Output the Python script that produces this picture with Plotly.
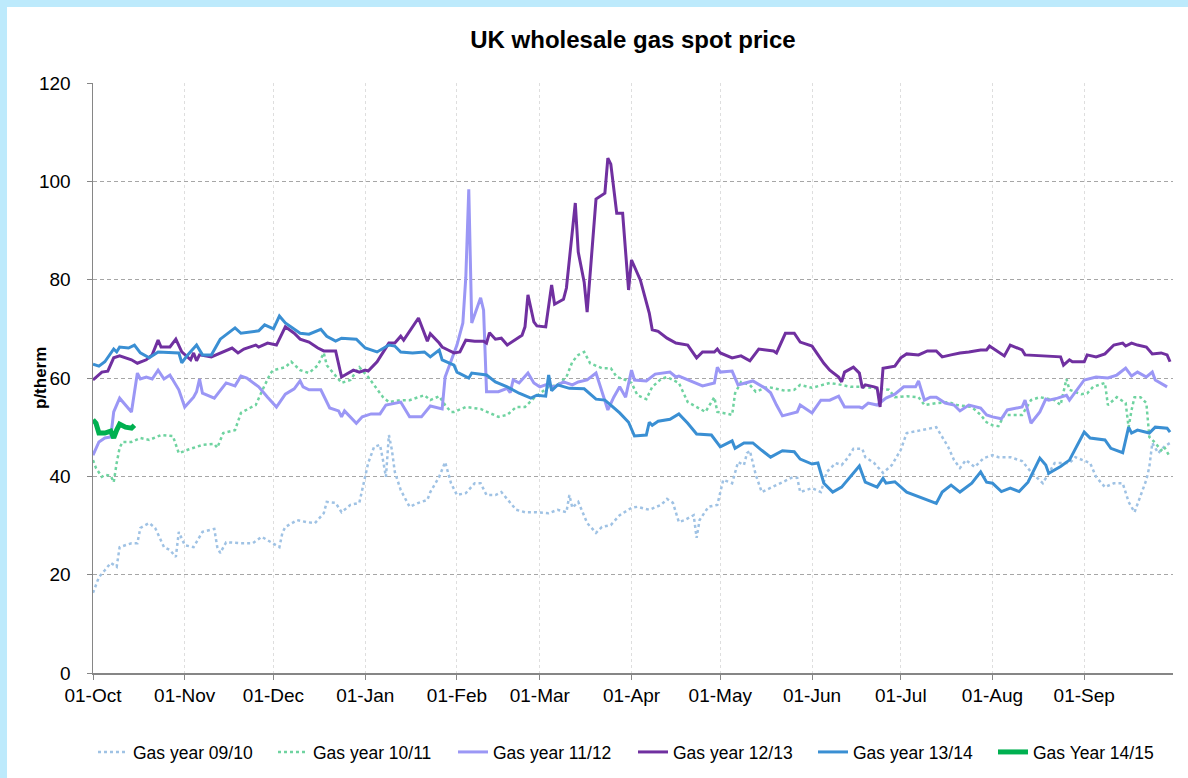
import pandas as pd
import plotly.graph_objects as go

# ---- data: day offset from 01-Oct and price in p/therm ----
base_date = "2013-10-01"
month_ticks = ["01-Oct", "01-Nov", "01-Dec", "01-Jan", "01-Feb", "01-Mar",
               "01-Apr", "01-May", "01-Jun", "01-Jul", "01-Aug", "01-Sep"]

days_0910 = [0,2,4,6,8,9,13,15,16,19,21,24,26,28,29,31,34,37,41,42,
             43,45,50,54,57,60,63,64,65,69,72,75,78,79,82,84,87,90,92,93,
             95,97,98,99,100,101,102,104,107,110,113,114,117,119,121,123,126,129,131,133,
             136,138,143,146,150,154,157,160,161,162,164,167,170,172,175,178,182,184,188,192,
             194,196,198,200,203,204,205,208,211,213,216,218,220,221,222,224,226,229,233,236,
             238,239,243,246,248,251,253,255,257,260,261,264,267,270,273,275,280,285,287,289,
             291,293,295,298,301,304,306,310,314,317,321,325,330,332,337,339,342,345,348,350,
             352,354,356,357,358,360,362,364]
vals_0910 = [16.3,19.5,20.9,22.4,21.6,25.6,26.4,26.4,29.5,30.5,29.5,25.6,25.0,23.6,28.7,26.0,25.6,28.7,29.3,25.6,
             24.4,26.6,26.4,26.4,27.7,26.6,25.6,28.5,29.7,31.1,30.7,30.5,32.5,34.8,34.6,32.7,34.2,34.6,39.7,42.7,
             46.0,46.4,43.3,39.9,48.4,45.4,40.9,37.2,33.8,34.6,35.2,36.8,39.9,42.9,38.6,36.2,36.6,38.6,38.6,36.2,
             36.2,36.8,33.2,32.7,32.7,32.5,33.2,32.7,36.2,33.6,34.8,30.5,28.5,29.7,30.1,32.1,33.6,33.8,33.2,34.2,
             35.4,34.6,30.7,31.1,32.1,27.5,31.1,33.8,34.2,39.3,38.6,42.9,42.3,44.7,45.2,40.3,36.8,37.6,38.8,39.7,
             39.7,36.8,37.6,36.8,40.9,42.7,42.3,43.7,45.6,45.6,43.9,42.7,40.7,42.3,45.4,48.8,49.4,50.0,48.0,46.0,
             43.3,41.7,43.3,41.9,43.7,44.3,43.9,43.9,43.1,40.9,38.6,42.7,42.7,43.9,42.7,39.9,37.8,38.6,38.6,34.8,
             32.7,35.8,39.3,41.9,46.8,44.7,46.0,46.8]

days_1011 = [0,1,3,4,6,7,8,9,10,13,16,19,23,27,29,32,37,41,42,44,
             48,50,53,55,57,60,61,65,67,70,73,76,78,79,84,87,90,93,98,100,
             104,107,112,114,117,119,121,122,126,131,134,137,140,143,146,149,154,157,160,162,
             164,166,168,172,175,177,180,182,184,187,189,192,194,198,201,204,207,210,211,213,
             216,217,219,222,224,228,234,237,239,243,249,253,256,260,264,269,271,275,279,281,
             285,289,292,297,300,302,304,306,308,314,317,320,325,327,329,330,334,336,338,342,
             343,346,349,350,351,352,354,356,357,359,361,362,364]
vals_1011 = [43.3,41.7,39.9,40.3,40.1,38.8,42.7,45.8,47.0,47.0,47.8,47.4,48.4,48.2,44.7,45.4,46.4,46.6,45.8,48.8,
             49.4,52.9,53.9,54.5,57.2,61.0,61.6,62.2,63.3,61.6,61.0,62.6,65.1,62.6,59.0,59.6,62.2,60.2,56.1,55.1,
             55.5,55.5,56.5,55.5,56.3,54.5,53.1,53.1,54.1,53.7,52.9,52.1,52.5,54.1,54.1,55.9,58.2,58.6,60.2,63.3,
             64.7,65.3,63.0,62.0,62.0,60.2,59.6,59.0,56.5,55.7,58.2,59.8,60.2,59.0,55.1,54.1,53.1,56.1,53.1,52.9,
             52.5,56.9,59.2,58.6,57.2,58.2,57.4,57.6,58.6,58.0,59.0,58.6,58.2,58.2,58.0,57.6,56.1,56.3,56.1,54.5,
             54.9,55.1,54.5,54.1,52.5,51.0,50.4,50.2,52.5,52.5,55.5,56.1,55.5,54.5,59.8,57.6,56.7,56.9,58.2,59.0,
             54.5,56.1,54.9,50.0,53.5,56.1,56.1,54.9,48.0,46.8,45.3,46.0,43.9]

days_1112 = [0,2,4,6,7,9,13,15,16,18,20,22,24,26,29,31,34,35,36,37,
             41,45,48,50,52,56,59,62,65,68,70,71,73,77,80,83,84,85,89,91,
             94,97,99,104,107,111,114,118,119,123,125,126,127,128,131,132,133,137,140,141,
             142,144,147,149,151,153,156,159,162,164,167,170,174,176,178,180,182,183,187,190,
             195,197,198,201,206,210,211,212,216,218,223,227,229,231,233,238,239,243,246,249,
             252,254,259,260,262,265,268,271,274,278,279,281,283,285,288,291,293,296,300,302,
             304,307,309,314,315,317,320,322,323,326,329,330,335,339,343,346,349,351,353,356,
             358,359,363]
vals_1112 = [44.3,47.0,47.8,48.0,53.1,55.9,53.1,61.0,59.8,60.2,59.8,61.6,59.8,60.6,57.6,54.1,56.1,57.2,59.8,56.9,
             55.9,59.0,58.4,60.4,60.0,58.2,56.1,54.1,56.7,57.8,59.4,58.2,57.6,57.6,53.9,53.3,52.1,53.3,50.8,52.1,
             52.7,52.7,54.5,55.1,52.1,52.1,54.3,53.7,60.2,66.7,71.2,80.5,98.4,71.2,76.3,73.8,57.2,57.2,57.9,57.0,
             59.6,59.0,61.0,59.0,58.2,58.6,58.2,59.2,58.6,59.2,59.6,61.0,53.5,56.1,58.2,56.1,61.6,59.6,59.4,60.8,
             61.2,60.2,60.4,59.6,58.4,59.0,62.2,61.2,61.4,58.6,59.4,58.0,57.0,54.5,52.3,53.1,54.5,52.9,55.5,55.5,
             56.3,54.1,54.1,53.9,54.9,54.5,55.9,56.7,58.2,58.2,59.4,55.5,56.1,56.1,54.9,54.5,53.3,54.5,53.9,52.5,
             52.1,51.7,53.5,54.1,55.5,50.8,53.1,55.7,55.5,55.9,56.5,55.5,59.6,60.2,60.0,60.6,62.0,60.4,61.2,60.2,
             61.2,59.6,58.2]

days_1213 = [0,3,5,7,9,11,13,15,18,20,22,23,26,28,30,33,34,35,36,40,
             43,47,49,51,55,56,59,62,65,68,70,73,76,78,82,84,88,90,92,93,
             96,98,100,102,104,105,107,110,113,114,117,118,120,122,124,126,129,132,133,134,
             136,138,140,145,146,147,149,150,153,155,156,159,160,163,164,166,167,170,173,174,
             175,177,179,181,182,185,188,189,191,194,197,201,204,206,210,211,212,216,219,222,
             225,230,231,234,237,239,243,247,249,252,253,254,257,259,260,261,264,265,266,267,
             269,271,273,275,279,282,285,287,290,293,296,300,302,303,305,308,310,314,315,320,
             325,327,328,330,331,335,336,339,342,345,348,349,351,353,356,358,361,363,364]
vals_1213 = [59.6,61.2,61.4,64.1,64.5,64.1,63.7,63.0,63.7,64.7,67.7,66.3,66.3,67.9,65.3,63.7,65.1,63.5,64.7,64.3,
             65.1,66.1,65.1,65.9,66.7,66.3,67.1,66.7,70.4,69.1,67.9,67.3,66.1,65.5,65.5,60.2,61.6,61.2,61.6,61.4,
             63.3,65.3,67.1,67.1,68.5,67.7,69.4,72.2,67.5,69.0,67.1,66.3,65.7,65.1,65.3,67.7,67.5,67.5,67.1,69.2,
             67.9,68.1,66.7,68.7,70.4,76.9,71.4,70.6,70.4,78.9,75.0,76.0,78.3,95.6,85.6,79.5,73.4,96.4,97.6,104.7,
             103.5,93.5,93.5,77.9,84.0,79.9,73.2,69.8,69.5,68.1,67.1,66.7,64.1,65.3,65.3,65.9,65.1,64.1,64.5,63.5,
             65.9,65.5,65.1,69.1,69.1,67.3,66.5,63.0,61.6,60.2,59.2,61.2,62.2,61.0,58.0,58.6,58.2,58.0,54.1,62.0,
             62.2,62.4,64.1,64.9,64.7,65.5,65.5,64.3,64.7,65.1,65.3,65.7,65.7,66.5,65.7,64.5,66.7,65.7,64.7,64.5,
             64.3,64.3,62.6,63.7,63.3,63.3,64.7,64.3,64.9,66.7,67.1,66.5,67.1,66.7,66.3,64.9,65.1,64.7,63.3]

days_1314 = [0,2,4,7,8,9,12,14,16,19,22,29,30,32,35,37,40,43,48,50,
             56,58,61,63,65,70,73,77,79,82,84,89,92,96,100,102,104,108,112,114,
             117,118,122,123,127,128,133,136,140,144,148,150,153,154,155,157,161,166,170,173,
             175,178,181,183,187,188,189,191,195,198,201,204,209,212,216,217,220,223,226,229,
             233,237,239,243,245,247,250,253,259,261,265,267,268,271,275,280,285,287,290,293,
             297,300,302,304,307,310,313,316,318,320,322,323,327,330,335,337,342,344,348,350,
             351,353,357,359,363,364]
vals_1314 = [62.8,62.4,63.3,65.9,65.3,66.3,66.1,66.7,65.1,64.1,65.3,65.1,63.1,64.7,66.7,64.7,64.7,67.9,70.2,69.1,
             69.6,70.8,70.0,72.6,71.2,69.1,68.9,69.9,68.5,67.5,68.1,67.9,66.1,65.3,66.7,66.5,65.3,65.1,65.3,64.3,
             65.7,63.7,62.6,61.2,60.0,61.0,60.6,59.2,58.2,56.9,55.9,56.5,56.3,60.6,57.4,58.6,57.9,57.8,55.7,55.5,
             54.5,52.9,51.0,48.2,48.4,51.0,50.4,51.2,51.6,52.7,50.8,48.6,48.4,46.0,47.2,45.7,46.8,46.8,45.3,43.9,
             45.2,45.0,43.5,42.5,42.7,38.6,36.8,37.8,42.1,38.8,37.8,39.6,38.6,38.9,36.8,35.6,34.5,36.8,38.2,36.8,
             38.6,40.9,38.8,38.6,36.9,37.6,36.9,38.8,41.3,43.7,42.3,40.6,42.0,43.3,49.0,47.8,47.4,45.7,44.8,50.0,
             48.8,49.4,48.8,50.0,49.8,49.0]

days_1415 = [0,1,2,4,6,7,8,9,11,13,14]
vals_1415 = [51.5,50.8,48.8,48.8,49.2,47.8,49.4,50.6,50.0,49.8,50.4]

series_names = ["Gas year 09/10", "Gas year 10/11", "Gas year 11/12",
                "Gas year 12/13", "Gas year 13/14", "Gas Year 14/15"]
series_days = [days_0910, days_1011, days_1112, days_1213, days_1314, days_1415]
series_vals = [vals_0910, vals_1011, vals_1112, vals_1213, vals_1314, vals_1415]

# ---- styles ----
colors = ["#9fc2e4", "#6fd3a0", "#9b97f5", "#7030a0", "#3a8fd3", "#00b050"]
widths = [2.5, 2.5, 3, 3, 3, 5]
dashes = ["dot", "dot", "solid", "solid", "solid", "solid"]
BORDER = "#bdeafc"

base = pd.Timestamp(base_date)
fig = go.Figure()
for name, d, v, c, w, ds in zip(series_names, series_days, series_vals, colors, widths, dashes):
    assert len(d) == len(v), name
    x = [base + pd.Timedelta(days=int(k)) for k in d]
    fig.add_trace(go.Scatter(x=x, y=v, mode="lines", name=name,
                             line=dict(color=c, width=w, dash=ds)))

tick_dates = pd.date_range(base, periods=12, freq="MS")
FONT = "Liberation Sans, Arial, sans-serif"

fig.update_layout(
    width=1188, height=778,
    paper_bgcolor=BORDER, plot_bgcolor="white",
    margin=dict(l=93, r=15, t=83, b=105, autoexpand=False),
    font=dict(family=FONT, color="#000000"),
    title=dict(text="<b>UK wholesale gas spot price</b>", x=0.5, xanchor="center",
               y=1 - 40 / 778, yanchor="middle", xref="paper",
               font=dict(size=24, family=FONT, color="#000000")),
    showlegend=True,
    legend=dict(orientation="h", x=0.5, xanchor="center", y=-0.134, yanchor="middle",
                font=dict(size=17.5, family=FONT, color="#000000"),
                bgcolor="rgba(0,0,0,0)", entrywidth=135, entrywidthmode="pixels",
                traceorder="normal"),
    shapes=[dict(type="rect", xref="paper", yref="paper", layer="below",
                 x0=-86 / 1080, x1=1 + 15 / 1080, y0=-105 / 590, y1=1 + 76 / 590,
                 fillcolor="white", line=dict(width=0))],
    annotations=[dict(text="<b>p/therm</b>", xref="paper", yref="paper",
                      x=-53 / 1080, y=0.5, xanchor="center", yanchor="middle",
                      textangle=-90, showarrow=False,
                      font=dict(size=17, family=FONT, color="#000000"))],
)

fig.update_xaxes(
    type="date", range=[base, base + pd.Timedelta(days=365)],
    tickvals=tick_dates, ticktext=month_ticks, automargin=False,
    tickfont=dict(size=19, family=FONT, color="#000000"),
    showgrid=True, gridcolor="#dedede", griddash="3px,3px", gridwidth=1,
    showline=True, linecolor="#868686", linewidth=1.5,
    ticks="outside", ticklen=5, tickcolor="#868686",
    zeroline=False,
)
fig.update_yaxes(
    range=[0, 120], dtick=20, tick0=0, automargin=False,
    tickfont=dict(size=19, family=FONT, color="#000000"),
    showgrid=True, gridcolor="#a6a6a6", griddash="4px,3px", gridwidth=1,
    showline=True, linecolor="#868686", linewidth=1.5,
    ticks="outside", ticklen=5, tickcolor="#868686",
    ticklabelstandoff=12,
    zeroline=False,
)

# the page body has a default 8px margin; remove it so the figure fills the window
page_fix = ("document.body.style.margin='0px';"
            "document.body.style.padding='0px';"
            "document.body.style.background='" + BORDER + "';")
fig.write_html("out.html", post_script=page_fix,
               config={"displayModeBar": False, "staticPlot": True})
